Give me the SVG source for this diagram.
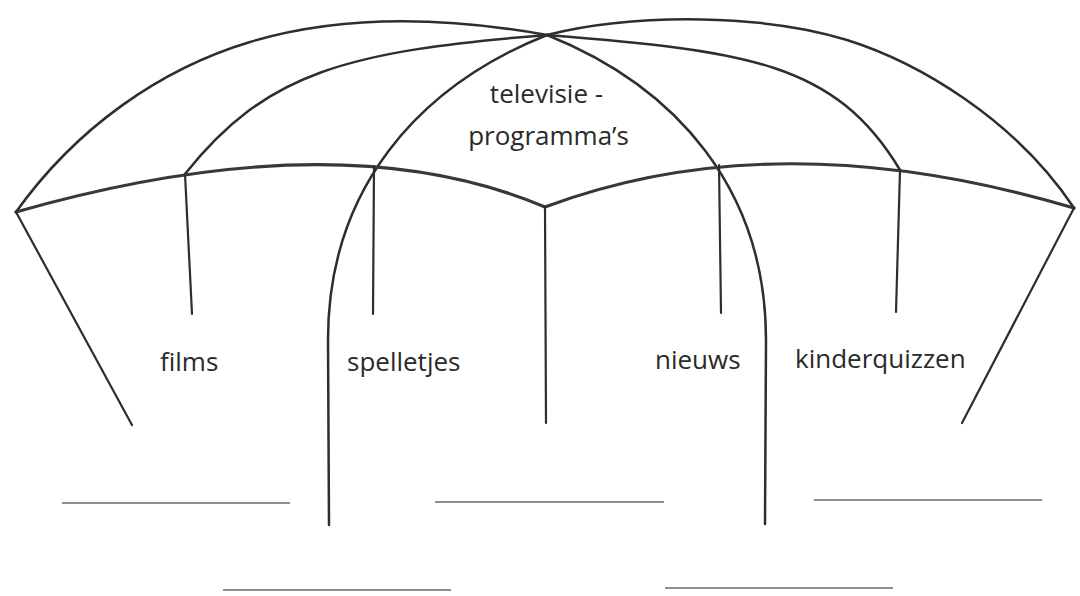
<svg xmlns="http://www.w3.org/2000/svg" width="1080" height="596" viewBox="0 0 1080 596">
<style>
.ln{fill:none;stroke:#2e2e2e;stroke-linecap:round;stroke-linejoin:round}
.rib{stroke-width:2.5}
.rim{stroke-width:3.2;stroke:#383838}
.stick{stroke-width:2.2}
.blank{stroke:#6a6a6a;stroke-width:1.6;fill:none}
.lbl{font-family:"Open Sans","Noto Sans",sans-serif;font-size:26px;fill:#2a2a2a}
</style>
<rect width="1080" height="596" fill="#ffffff"/>
<g id="connectors">
  <!-- outer ribs -->
  <path class="ln rib" d="M16,212 C76,128 160,69 250,42 C350,12 457,19 547,35"/>
  <path class="ln rib" d="M547,35 C640,12 767,15 847,40 C917,62 1014,118 1074,208"/>
  <!-- second ribs -->
  <path class="ln rib" d="M185,174 C266,72 347,51 547,35"/>
  <path class="ln rib" d="M547,35 C747,51 835,62 900,170"/>
  <!-- inner ribs continuing down -->
  <path class="ln rib" d="M547,35 C417,87 328,190 328,340 L329,525"/>
  <path class="ln rib" d="M547,35 C677,87 766,190 766,340 L765,524"/>
  <!-- rim -->
  <path class="ln rim" d="M16,212 Q339,120 545,207 Q777,120 1074,208"/>
  <!-- sticks -->
  <path class="ln stick" d="M16,212 L132,425"/>
  <path class="ln stick" d="M185,174 L192,314"/>
  <path class="ln stick" d="M374,166 L373,314"/>
  <path class="ln stick" d="M545,207 L546,423"/>
  <path class="ln stick" d="M719,165 L721,313"/>
  <path class="ln stick" d="M900,170 L896,312"/>
  <path class="ln stick" d="M1074,208 L962,423"/>
</g>
<g id="node-televisieprogrammas">
  <text class="lbl" x="546.5" y="103" text-anchor="middle">televisie -</text>
  <text class="lbl" x="548.5" y="145" text-anchor="middle">programma’s</text>
</g>
<g id="node-films"><text class="lbl" x="160" y="371">films</text></g>
<g id="node-spelletjes"><text class="lbl" x="347" y="371">spelletjes</text></g>
<g id="node-nieuws"><text class="lbl" x="655" y="369">nieuws</text></g>
<g id="node-kinderquizzen"><text class="lbl" x="795" y="368">kinderquizzen</text></g>
<g id="answer-lines">
  <line class="blank" x1="62" y1="503" x2="290" y2="503"/>
  <line class="blank" x1="435" y1="502" x2="664" y2="502"/>
  <line class="blank" x1="814" y1="500" x2="1042" y2="500"/>
  <line class="blank" x1="223" y1="590" x2="451" y2="590"/>
  <line class="blank" x1="665" y1="588" x2="893" y2="588"/>
</g>
</svg>
